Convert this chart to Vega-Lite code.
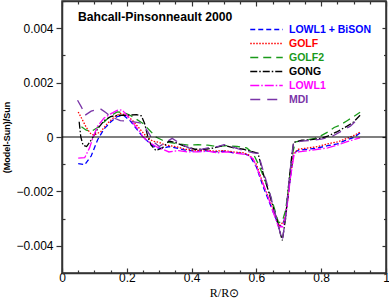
{
  "$schema": "https://vega.github.io/schema/vega-lite/v6.json",
  "width": 324,
  "height": 272,
  "autosize": "none",
  "padding": {"left": 62, "top": 1, "right": 3, "bottom": 27},
  "config": {
    "view": {"stroke": "#333", "strokeWidth": 1.5},
    "axis": {"grid": false, "labelFont": "Liberation Sans", "labelFontSize": 12, "labelColor": "black", "domainColor": "#333", "domainWidth": 1.5, "tickColor": "#333", "tickWidth": 1.2, "titleColor": "black"}
  },
  "datasets": {
    "curves": [
      {"s":"LOWL1 + BiSON","x":0.05,"y":-0.00098},{"s":"LOWL1 + BiSON","x":0.07,"y":-0.00102},{"s":"LOWL1 + BiSON","x":0.09,"y":-0.0007},{"s":"LOWL1 + BiSON","x":0.11,"y":-0.0001},{"s":"LOWL1 + BiSON","x":0.13,"y":0.0003},{"s":"LOWL1 + BiSON","x":0.15,"y":0.00055},{"s":"LOWL1 + BiSON","x":0.17,"y":0.00075},{"s":"LOWL1 + BiSON","x":0.19,"y":0.0008},{"s":"LOWL1 + BiSON","x":0.21,"y":0.0006},{"s":"LOWL1 + BiSON","x":0.23,"y":0.0003},{"s":"LOWL1 + BiSON","x":0.25,"y":0.0},{"s":"LOWL1 + BiSON","x":0.27,"y":-0.00022},{"s":"LOWL1 + BiSON","x":0.29,"y":-0.0004},{"s":"LOWL1 + BiSON","x":0.31,"y":-0.00042},{"s":"LOWL1 + BiSON","x":0.33,"y":-0.00035},{"s":"LOWL1 + BiSON","x":0.35,"y":-0.0004},{"s":"LOWL1 + BiSON","x":0.38,"y":-0.00048},{"s":"LOWL1 + BiSON","x":0.41,"y":-0.00052},{"s":"LOWL1 + BiSON","x":0.44,"y":-0.0005},{"s":"LOWL1 + BiSON","x":0.47,"y":-0.00055},{"s":"LOWL1 + BiSON","x":0.5,"y":-0.00052},{"s":"LOWL1 + BiSON","x":0.53,"y":-0.00058},{"s":"LOWL1 + BiSON","x":0.56,"y":-0.0006},{"s":"LOWL1 + BiSON","x":0.58,"y":-0.0007},{"s":"LOWL1 + BiSON","x":0.6,"y":-0.0011},{"s":"LOWL1 + BiSON","x":0.62,"y":-0.0018},{"s":"LOWL1 + BiSON","x":0.64,"y":-0.0024},{"s":"LOWL1 + BiSON","x":0.66,"y":-0.003},{"s":"LOWL1 + BiSON","x":0.672,"y":-0.0033},{"s":"LOWL1 + BiSON","x":0.685,"y":-0.0031},{"s":"LOWL1 + BiSON","x":0.695,"y":-0.0025},{"s":"LOWL1 + BiSON","x":0.705,"y":-0.0015},{"s":"LOWL1 + BiSON","x":0.715,"y":-0.0006},{"s":"LOWL1 + BiSON","x":0.73,"y":-0.00048},{"s":"LOWL1 + BiSON","x":0.76,"y":-0.00045},{"s":"LOWL1 + BiSON","x":0.79,"y":-0.0004},{"s":"LOWL1 + BiSON","x":0.82,"y":-0.00032},{"s":"LOWL1 + BiSON","x":0.85,"y":-0.00025},{"s":"LOWL1 + BiSON","x":0.88,"y":-0.0001},{"s":"LOWL1 + BiSON","x":0.9,"y":-0.00002},{"s":"LOWL1 + BiSON","x":0.92,"y":0.00015},

      {"s":"GOLF","x":0.05,"y":0.00092},{"s":"GOLF","x":0.06,"y":0.0007},{"s":"GOLF","x":0.075,"y":0.00035},{"s":"GOLF","x":0.09,"y":0.0001},{"s":"GOLF","x":0.1,"y":0.00007},{"s":"GOLF","x":0.12,"y":0.0002},{"s":"GOLF","x":0.14,"y":0.0005},{"s":"GOLF","x":0.16,"y":0.00072},{"s":"GOLF","x":0.18,"y":0.00087},{"s":"GOLF","x":0.2,"y":0.0008},{"s":"GOLF","x":0.22,"y":0.00058},{"s":"GOLF","x":0.24,"y":0.0003},{"s":"GOLF","x":0.26,"y":0.00002},{"s":"GOLF","x":0.28,"y":-0.00015},{"s":"GOLF","x":0.3,"y":-0.0002},{"s":"GOLF","x":0.32,"y":-0.0003},{"s":"GOLF","x":0.35,"y":-0.00035},{"s":"GOLF","x":0.38,"y":-0.00045},{"s":"GOLF","x":0.41,"y":-0.0005},{"s":"GOLF","x":0.44,"y":-0.00048},{"s":"GOLF","x":0.47,"y":-0.00052},{"s":"GOLF","x":0.5,"y":-0.0005},{"s":"GOLF","x":0.53,"y":-0.00055},{"s":"GOLF","x":0.56,"y":-0.00058},{"s":"GOLF","x":0.58,"y":-0.00068},{"s":"GOLF","x":0.6,"y":-0.001},{"s":"GOLF","x":0.62,"y":-0.0017},{"s":"GOLF","x":0.64,"y":-0.0023},{"s":"GOLF","x":0.66,"y":-0.0029},{"s":"GOLF","x":0.672,"y":-0.00325},{"s":"GOLF","x":0.685,"y":-0.0031},{"s":"GOLF","x":0.695,"y":-0.0025},{"s":"GOLF","x":0.705,"y":-0.0014},{"s":"GOLF","x":0.715,"y":-0.0006},{"s":"GOLF","x":0.73,"y":-0.00045},{"s":"GOLF","x":0.76,"y":-0.0004},{"s":"GOLF","x":0.79,"y":-0.00035},{"s":"GOLF","x":0.82,"y":-0.00025},{"s":"GOLF","x":0.85,"y":-0.00018},{"s":"GOLF","x":0.88,"y":-0.00005},{"s":"GOLF","x":0.9,"y":0.00005},{"s":"GOLF","x":0.92,"y":0.00018},

      {"s":"GOLF2","x":0.06,"y":0.00038},{"s":"GOLF2","x":0.075,"y":0.00025},{"s":"GOLF2","x":0.09,"y":0.0002},{"s":"GOLF2","x":0.11,"y":0.00035},{"s":"GOLF2","x":0.13,"y":0.00055},{"s":"GOLF2","x":0.15,"y":0.00078},{"s":"GOLF2","x":0.17,"y":0.00092},{"s":"GOLF2","x":0.19,"y":0.0009},{"s":"GOLF2","x":0.21,"y":0.0008},{"s":"GOLF2","x":0.23,"y":0.00065},{"s":"GOLF2","x":0.25,"y":0.0005},{"s":"GOLF2","x":0.27,"y":0.00025},{"s":"GOLF2","x":0.29,"y":0.0},{"s":"GOLF2","x":0.31,"y":-0.00012},{"s":"GOLF2","x":0.33,"y":-0.0002},{"s":"GOLF2","x":0.36,"y":-0.00025},{"s":"GOLF2","x":0.39,"y":-0.0003},{"s":"GOLF2","x":0.42,"y":-0.00028},{"s":"GOLF2","x":0.45,"y":-0.0003},{"s":"GOLF2","x":0.48,"y":-0.00035},{"s":"GOLF2","x":0.51,"y":-0.00032},{"s":"GOLF2","x":0.54,"y":-0.00035},{"s":"GOLF2","x":0.57,"y":-0.0004},{"s":"GOLF2","x":0.59,"y":-0.0006},{"s":"GOLF2","x":0.61,"y":-0.0011},{"s":"GOLF2","x":0.63,"y":-0.0017},{"s":"GOLF2","x":0.65,"y":-0.0024},{"s":"GOLF2","x":0.668,"y":-0.00315},{"s":"GOLF2","x":0.68,"y":-0.0031},{"s":"GOLF2","x":0.69,"y":-0.0027},{"s":"GOLF2","x":0.7,"y":-0.0018},{"s":"GOLF2","x":0.71,"y":-0.0007},{"s":"GOLF2","x":0.72,"y":-0.00018},{"s":"GOLF2","x":0.75,"y":-0.00012},{"s":"GOLF2","x":0.78,"y":-0.00005},{"s":"GOLF2","x":0.8,"y":0.00005},{"s":"GOLF2","x":0.82,"y":0.00018},{"s":"GOLF2","x":0.84,"y":0.00035},{"s":"GOLF2","x":0.86,"y":0.00045},{"s":"GOLF2","x":0.88,"y":0.0006},{"s":"GOLF2","x":0.9,"y":0.00075},{"s":"GOLF2","x":0.92,"y":0.00091},

      {"s":"GONG","x":0.053,"y":0.00056},{"s":"GONG","x":0.058,"y":0.0},{"s":"GONG","x":0.065,"y":-0.0003},{"s":"GONG","x":0.076,"y":-0.00035},{"s":"GONG","x":0.085,"y":-0.0002},{"s":"GONG","x":0.096,"y":0.0},{"s":"GONG","x":0.11,"y":0.0003},{"s":"GONG","x":0.13,"y":0.0006},{"s":"GONG","x":0.15,"y":0.00075},{"s":"GONG","x":0.17,"y":0.0008},{"s":"GONG","x":0.2,"y":0.0008},{"s":"GONG","x":0.23,"y":0.00082},{"s":"GONG","x":0.245,"y":0.00078},{"s":"GONG","x":0.255,"y":0.0005},{"s":"GONG","x":0.265,"y":0.0},{"s":"GONG","x":0.275,"y":-0.0003},{"s":"GONG","x":0.29,"y":-0.0005},{"s":"GONG","x":0.31,"y":-0.0004},{"s":"GONG","x":0.33,"y":-0.00015},{"s":"GONG","x":0.35,"y":-0.0002},{"s":"GONG","x":0.38,"y":-0.00035},{"s":"GONG","x":0.41,"y":-0.00045},{"s":"GONG","x":0.44,"y":-0.00045},{"s":"GONG","x":0.47,"y":-0.0004},{"s":"GONG","x":0.5,"y":-0.0003},{"s":"GONG","x":0.53,"y":-0.0004},{"s":"GONG","x":0.56,"y":-0.00045},{"s":"GONG","x":0.59,"y":-0.00055},{"s":"GONG","x":0.605,"y":-0.0006},{"s":"GONG","x":0.62,"y":-0.0013},{"s":"GONG","x":0.64,"y":-0.0021},{"s":"GONG","x":0.66,"y":-0.0029},{"s":"GONG","x":0.675,"y":-0.0036},{"s":"GONG","x":0.68,"y":-0.0038},{"s":"GONG","x":0.69,"y":-0.003},{"s":"GONG","x":0.7,"y":-0.0017},{"s":"GONG","x":0.71,"y":-0.0006},{"s":"GONG","x":0.715,"y":-0.0002},{"s":"GONG","x":0.74,"y":-0.00012},{"s":"GONG","x":0.77,"y":-0.0001},{"s":"GONG","x":0.8,"y":-0.00005},{"s":"GONG","x":0.82,"y":0.00003},{"s":"GONG","x":0.85,"y":0.0002},{"s":"GONG","x":0.88,"y":0.0004},{"s":"GONG","x":0.9,"y":0.00055},{"s":"GONG","x":0.92,"y":0.0008},

      {"s":"LOWL1","x":0.05,"y":-0.00078},{"s":"LOWL1","x":0.07,"y":-0.00076},{"s":"LOWL1","x":0.085,"y":-0.0004},{"s":"LOWL1","x":0.096,"y":0.0},{"s":"LOWL1","x":0.11,"y":0.0004},{"s":"LOWL1","x":0.13,"y":0.0007},{"s":"LOWL1","x":0.15,"y":0.00085},{"s":"LOWL1","x":0.17,"y":0.00098},{"s":"LOWL1","x":0.185,"y":0.001},{"s":"LOWL1","x":0.2,"y":0.0008},{"s":"LOWL1","x":0.22,"y":0.0005},{"s":"LOWL1","x":0.24,"y":0.0002},{"s":"LOWL1","x":0.25,"y":0.0},{"s":"LOWL1","x":0.27,"y":-0.0002},{"s":"LOWL1","x":0.29,"y":-0.00035},{"s":"LOWL1","x":0.31,"y":-0.00045},{"s":"LOWL1","x":0.33,"y":-0.00055},{"s":"LOWL1","x":0.36,"y":-0.0005},{"s":"LOWL1","x":0.39,"y":-0.00055},{"s":"LOWL1","x":0.42,"y":-0.00055},{"s":"LOWL1","x":0.45,"y":-0.00052},{"s":"LOWL1","x":0.48,"y":-0.00058},{"s":"LOWL1","x":0.51,"y":-0.00055},{"s":"LOWL1","x":0.54,"y":-0.0006},{"s":"LOWL1","x":0.57,"y":-0.00065},{"s":"LOWL1","x":0.59,"y":-0.0008},{"s":"LOWL1","x":0.61,"y":-0.0014},{"s":"LOWL1","x":0.63,"y":-0.002},{"s":"LOWL1","x":0.65,"y":-0.0027},{"s":"LOWL1","x":0.668,"y":-0.0033},{"s":"LOWL1","x":0.682,"y":-0.0033},{"s":"LOWL1","x":0.692,"y":-0.0028},{"s":"LOWL1","x":0.705,"y":-0.0015},{"s":"LOWL1","x":0.717,"y":-0.0006},{"s":"LOWL1","x":0.73,"y":-0.00055},{"s":"LOWL1","x":0.76,"y":-0.0005},{"s":"LOWL1","x":0.79,"y":-0.00045},{"s":"LOWL1","x":0.82,"y":-0.0004},{"s":"LOWL1","x":0.85,"y":-0.0003},{"s":"LOWL1","x":0.88,"y":-0.00017},{"s":"LOWL1","x":0.9,"y":-0.0001},{"s":"LOWL1","x":0.92,"y":-0.00003},

      {"s":"MDI","x":0.048,"y":0.00135},{"s":"MDI","x":0.06,"y":0.0011},{"s":"MDI","x":0.071,"y":0.0008},{"s":"MDI","x":0.09,"y":0.00095},{"s":"MDI","x":0.117,"y":0.00105},{"s":"MDI","x":0.135,"y":0.0009},{"s":"MDI","x":0.15,"y":0.00075},{"s":"MDI","x":0.18,"y":0.0006},{"s":"MDI","x":0.21,"y":0.00058},{"s":"MDI","x":0.24,"y":0.00052},{"s":"MDI","x":0.255,"y":0.00038},{"s":"MDI","x":0.27,"y":0.0001},{"s":"MDI","x":0.285,"y":-0.0002},{"s":"MDI","x":0.3,"y":-0.00035},{"s":"MDI","x":0.32,"y":-0.0002},{"s":"MDI","x":0.34,"y":-0.00005},{"s":"MDI","x":0.36,"y":-0.0002},{"s":"MDI","x":0.39,"y":-0.0004},{"s":"MDI","x":0.42,"y":-0.00048},{"s":"MDI","x":0.45,"y":-0.0004},{"s":"MDI","x":0.48,"y":-0.00035},{"s":"MDI","x":0.5,"y":-0.00028},{"s":"MDI","x":0.53,"y":-0.00038},{"s":"MDI","x":0.56,"y":-0.0005},{"s":"MDI","x":0.59,"y":-0.00058},{"s":"MDI","x":0.605,"y":-0.0006},{"s":"MDI","x":0.62,"y":-0.0012},{"s":"MDI","x":0.64,"y":-0.002},{"s":"MDI","x":0.66,"y":-0.0029},{"s":"MDI","x":0.675,"y":-0.0036},{"s":"MDI","x":0.68,"y":-0.0038},{"s":"MDI","x":0.69,"y":-0.003},{"s":"MDI","x":0.7,"y":-0.0017},{"s":"MDI","x":0.71,"y":-0.0006},{"s":"MDI","x":0.715,"y":-0.0002},{"s":"MDI","x":0.74,"y":-0.00015},{"s":"MDI","x":0.77,"y":-0.00012},{"s":"MDI","x":0.8,"y":-0.00008},{"s":"MDI","x":0.83,"y":0.0},{"s":"MDI","x":0.86,"y":0.0002},{"s":"MDI","x":0.89,"y":0.0004},{"s":"MDI","x":0.92,"y":0.00073}
    ],
    "zero": [{"x": 0, "y": 0}, {"x": 1, "y": 0}],
    "label": [{"x": 0.049, "y": 0.00441, "t": "Bahcall-Pinsonneault 2000"}]
  },
  "layer": [
    {
      "data": {"name": "curves"},
      "mark": {"type": "line", "strokeWidth": 1.3, "clip": true},
      "encoding": {
        "x": {"field": "x", "type": "quantitative", "scale": {"domain": [0, 1], "nice": false, "zero": false},
          "axis": {"orient": "bottom", "values": [0,0.05,0.1,0.15,0.2,0.25,0.3,0.35,0.4,0.45,0.5,0.55,0.6,0.65,0.7,0.75,0.8,0.85,0.9,0.95,1],
            "labelExpr": "abs(datum.value*5-round(datum.value*5))<0.0001 ? format(datum.value,'~g') : ''",
            "tickSize": {"condition": {"test": "abs(datum.value*5-round(datum.value*5))<0.0001", "value": -5}, "value": -3},
            "labelPadding": 4, "labelFlush": false, "labelOverlap": false,
            "title": "R/R⊙", "titleFont": "Liberation Serif", "titleFontSize": 12, "titleFontWeight": "normal", "titlePadding": 2}},
        "y": {"field": "y", "type": "quantitative", "scale": {"domain": [-0.005, 0.005], "nice": false, "zero": false},
          "axis": {"orient": "left", "values": [-0.005,-0.004,-0.003,-0.002,-0.001,0,0.001,0.002,0.003,0.004,0.005],
            "labelExpr": "abs(datum.value*500-round(datum.value*500))<0.0001 ? format(datum.value,'~g') : ''",
            "tickSize": {"condition": {"test": "abs(datum.value*500-round(datum.value*500))<0.0001", "value": 6}, "value": -3},
            "labelPadding": 3, "labelFlush": false, "labelOverlap": false,
            "title": "(Model-Sun)/Sun", "titleFont": "Liberation Sans", "titleFontSize": 9, "titleFontWeight": "bold", "titlePadding": 4}},
        "color": {"field": "s", "type": "nominal",
          "scale": {"domain": ["LOWL1 + BiSON", "GOLF", "GOLF2", "GONG", "LOWL1", "MDI"], "range": ["#0000ff", "#ff0000", "#1a9a1a", "#000000", "#ff00ff", "#7a35a8"]},
          "legend": {"orient": "none", "legendX": 197, "legendY": 21, "title": null, "symbolType": "M-2.5,0H2.5", "symbolSize": 169, "symbolStrokeWidth": 1.3,
            "labelFont": "Liberation Sans", "labelFontSize": 10.5, "labelFontWeight": "bold", "labelOffset": 15, "rowPadding": 1,
            "encode": {"labels": {"update": {"fill": {"scale": "color", "field": "value"}}}}}},
        "strokeDash": {"field": "s", "type": "nominal",
          "scale": {"domain": ["LOWL1 + BiSON", "GOLF", "GOLF2", "GONG", "LOWL1", "MDI"], "range": [[5,3],[1.5,1.5],[8,5],[7,2,1.5,2],[9,2,1.5,2],[10,7]]},
          "legend": {"orient": "none", "legendX": 197, "legendY": 21, "title": null, "symbolType": "M-2.5,0H2.5", "symbolSize": 169, "symbolStrokeWidth": 1.3,
            "labelFont": "Liberation Sans", "labelFontSize": 10.5, "labelFontWeight": "bold", "labelOffset": 15, "rowPadding": 1,
            "encode": {"labels": {"update": {"fill": {"scale": "color", "field": "value"}}}}}}
      }
    },
    {
      "data": {"name": "zero"},
      "mark": {"type": "line", "color": "black", "strokeWidth": 1.2},
      "encoding": {
        "x": {"field": "x", "type": "quantitative", "scale": {"domain": [0, 1], "nice": false, "zero": false},
          "axis": {"orient": "top", "values": [0,0.05,0.1,0.15,0.2,0.25,0.3,0.35,0.4,0.45,0.5,0.55,0.6,0.65,0.7,0.75,0.8,0.85,0.9,0.95,1], "labels": false, "title": null,
            "tickSize": {"condition": {"test": "abs(datum.value*5-round(datum.value*5))<0.0001", "value": -5}, "value": -3}}},
        "y": {"field": "y", "type": "quantitative", "scale": {"domain": [-0.005, 0.005], "nice": false, "zero": false},
          "axis": {"orient": "right", "values": [-0.005,-0.004,-0.003,-0.002,-0.001,0,0.001,0.002,0.003,0.004,0.005], "labels": false, "title": null,
            "tickSize": {"condition": {"test": "abs(datum.value*500-round(datum.value*500))<0.0001", "value": -4}, "value": -2.5}}}
      }
    },
    {
      "data": {"name": "label"},
      "mark": {"type": "text", "align": "left", "baseline": "middle", "font": "Liberation Sans", "fontSize": 12.2, "fontWeight": "bold", "color": "black"},
      "encoding": {
        "x": {"field": "x", "type": "quantitative", "axis": null},
        "y": {"field": "y", "type": "quantitative", "axis": null},
        "text": {"field": "t"}
      }
    }
  ],
  "resolve": {"axis": {"x": "independent", "y": "independent"}}
}
